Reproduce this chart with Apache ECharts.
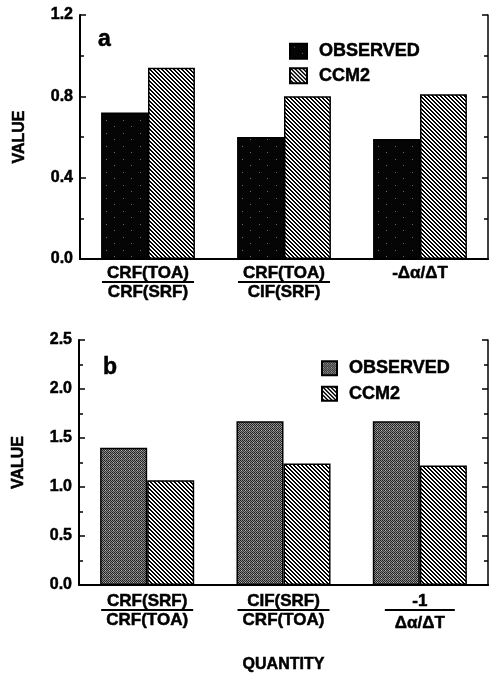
<!DOCTYPE html>
<html>
<head>
<meta charset="utf-8">
<script src="https://cdn.jsdelivr.net/npm/echarts@6/dist/echarts.min.js"></script>
<style>
  html, body { margin: 0; padding: 0; background: #fff; }
  #chart { width: 489px; height: 675px; }
</style>
</head>
<body>
<div id="chart"></div>
<script>
// data
const categoriesA = ['CRF(TOA) / CRF(SRF)', 'CRF(TOA) / CIF(SRF)', '-Δα/ΔT'];
const categoriesB = ['CRF(SRF) / CRF(TOA)', 'CIF(SRF) / CRF(TOA)', '-1 / Δα/ΔT'];
const observedA = [0.72, 0.60, 0.59];
const ccm2A = [0.94, 0.80, 0.81];
const observedB = [1.40, 1.67, 1.67];
const ccm2B = [1.07, 1.24, 1.22];
const seriesNames = ['OBSERVED', 'CCM2'];

const font = '"Liberation Sans", Arial, sans-serif';
// scanned text looks heavy, thicken it a bit
const heavy = { fontFamily: font, fontWeight: 'bold', color: '#000', textBorderColor: '#000', textBorderWidth: 0.5 };

// fill patterns (scanned b/w textures)
function makeTile(w, h, paint) {
    const c = document.createElement('canvas');
    c.width = w;
    c.height = h;
    const ctx = c.getContext('2d');
    for (let y = 0; y < h; y++) {
        for (let x = 0; x < w; x++) {
            ctx.fillStyle = paint(x, y);
            ctx.fillRect(x, y, 1, 1);
        }
    }
    return { image: c, repeat: 'repeat' };
}
const hatch = makeTile(4, 4, (x, y) => ((x - y + 8) % 4 < 2 ? '#000' : '#fff'));
const darkDots = makeTile(17, 13, (x, y) =>
    (x === 4 && y === 3) || (x === 12 && y === 9) ? '#6a6a6a' : '#050505');
const grayStipple = makeTile(4, 4, (x, y) => {
    if ((x + y) % 2 === 0) return y === 3 ? '#333' : '#222';
    return x === 1 && y === 2 ? '#bbb' : '#8a8a8a';
});

function fraction(value) {
    const parts = value.split(' / ');
    if (parts.length === 1) return '{num|' + parts[0] + '}';
    const bar = parts[0] === '-1' ? 'barS' : 'bar';
    const den = parts[0] === '-1' ? 'den2' : 'den';
    return '{num|' + parts[0] + '}\n{' + bar + '| }\n{' + den + '|' + parts[1] + '}';
}
const richLabel = {
    num: Object.assign({ fontSize: 17, lineHeight: 16 }, heavy),
    den: Object.assign({ fontSize: 17, lineHeight: 18 }, heavy),
    den2: Object.assign({ fontSize: 17, lineHeight: 24 }, heavy),
    bar: { width: 92, height: 2, lineHeight: 2, fontSize: 1, backgroundColor: '#000' },
    barS: { width: 70, height: 2, lineHeight: 2, fontSize: 1, backgroundColor: '#000' },
};

function bottomAxis(grid, data, margin) {
    return {
        type: 'category',
        gridIndex: grid,
        position: 'bottom',
        data: data,
        axisLine: { lineStyle: { color: '#000', width: 2 } },
        axisTick: { inside: true, length: 5, lineStyle: { color: '#000', width: 1.5 } },
        axisLabel: { margin: margin, formatter: fraction, rich: richLabel, interval: 0 },
    };
}
function topAxis(grid, data) {
    return {
        type: 'category',
        gridIndex: grid,
        position: 'top',
        data: data,
        axisLine: { lineStyle: { color: '#000', width: 1.5 } },
        axisTick: { inside: true, length: 5, lineStyle: { color: '#000', width: 1.5 } },
        axisLabel: { show: false },
    };
}
function valueAxis(grid, max, interval, side, showLabel) {
    return {
        type: 'value',
        gridIndex: grid,
        position: side,
        min: 0,
        max: max,
        interval: interval,
        name: showLabel ? 'VALUE' : '',
        nameLocation: 'middle',
        nameGap: 52,
        nameTextStyle: Object.assign({ fontSize: 16 }, heavy),
        axisLine: { show: true, lineStyle: { color: '#000', width: side === 'left' ? 2 : 1.5 } },
        axisTick: { show: true, inside: true, length: 6, lineStyle: { color: '#000', width: 1.5 } },
        minorTick: { show: true, splitNumber: 2, length: 4, lineStyle: { color: '#000', width: 1.5 } },
        splitLine: { show: false },
        minorSplitLine: { show: false },
        axisLabel: Object.assign({
            show: showLabel,
            margin: 7,
            fontSize: 16,
            formatter: (v) => v.toFixed(1),
        }, heavy),
    };
}
function barSeries(name, x, y, data, fill) {
    return {
        name: name,
        type: 'bar',
        xAxisIndex: x,
        yAxisIndex: y,
        data: data,
        barGap: 0,
        barCategoryGap: '31%',
        itemStyle: { color: fill, borderColor: '#000', borderWidth: 1.5 },
    };
}
function legendAt(left, top, names, h, w, gap) {
    return {
        left: left,
        top: top,
        orient: 'vertical',
        icon: 'rect',
        itemWidth: w,
        itemHeight: h,
        itemGap: gap,
        data: names,
        textStyle: Object.assign({ fontSize: 18, padding: [0, 0, 0, 7] }, heavy),
    };
}

const chart = echarts.init(document.getElementById('chart'));
const option = {
    backgroundColor: '#fff',
    animation: false,
    title: [
        { text: 'a', left: 93, top: 23, textStyle: Object.assign({ fontSize: 23 }, heavy) },
        { text: 'b', left: 98, top: 351, textStyle: Object.assign({ fontSize: 23 }, heavy) },
    ],
    legend: [
        legendAt(284, 37, [seriesNames[0], seriesNames[1]], 15, 17, 6),
        legendAt(316, 354, [seriesNames[0] + ' ', seriesNames[1] + ' '], 14, 15, 7),
    ],
    grid: [
        { left: 80, top: 15, width: 408, height: 244 },
        { left: 79, top: 340, width: 409, height: 245 },
    ],
    xAxis: [
        bottomAxis(0, categoriesA, 6),
        topAxis(0, categoriesA),
        Object.assign(bottomAxis(1, categoriesB, 8), {
            name: 'QUANTITY',
            nameLocation: 'middle',
            nameGap: 72,
            nameTextStyle: Object.assign({ fontSize: 16 }, heavy),
        }),
        topAxis(1, categoriesB),
    ],
    yAxis: [
        valueAxis(0, 1.2, 0.4, 'left', true),
        valueAxis(0, 1.2, 0.4, 'right', false),
        valueAxis(1, 2.5, 0.5, 'left', true),
        valueAxis(1, 2.5, 0.5, 'right', false),
    ],
    series: [
        barSeries(seriesNames[0], 0, 0, observedA, darkDots),
        barSeries(seriesNames[1], 0, 0, ccm2A, hatch),
        barSeries(seriesNames[0] + ' ', 2, 2, observedB, grayStipple),
        barSeries(seriesNames[1] + ' ', 2, 2, ccm2B, hatch),
    ],
};
chart.setOption(option);
window.addEventListener('resize', chart.resize);
</script>
</body>
</html>
